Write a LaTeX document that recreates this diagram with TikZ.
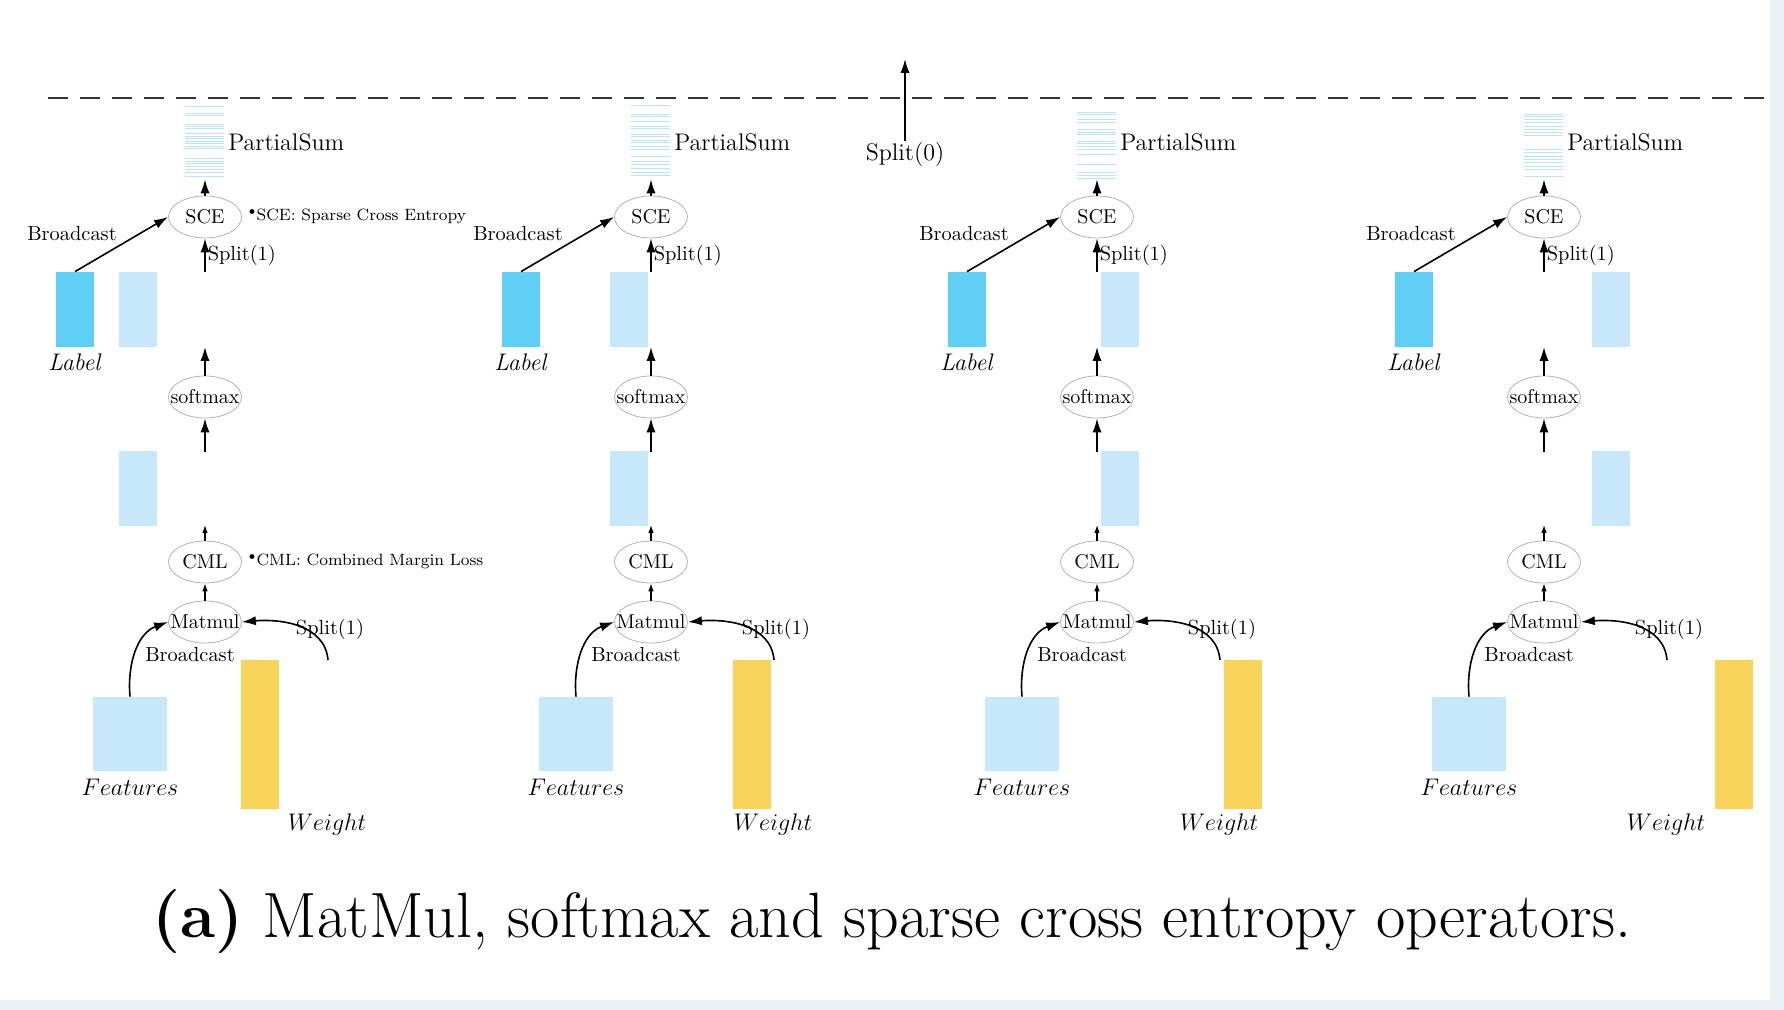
\documentclass[tikz,border=0pt]{standalone}
\usepackage{amsfonts}
\usepackage{bm}
\usepackage{xcolor}
\usepackage{tikz}
\usetikzlibrary{arrows.meta,shapes.geometric}
\definecolor{labelblue}{HTML}{5FCFF6}
\definecolor{paleblue}{HTML}{C6E8FA}
\definecolor{weightgold}{HTML}{F7D359}
\definecolor{stripeblue}{HTML}{BDE3F7}
\definecolor{edgeblue}{HTML}{EAF2F6}
\NewDocumentCommand{\opname}{m}{\makebox[0pt]{#1}}
\NewDocumentCommand{\opnote}{m}{$^{\scriptscriptstyle\bullet}$#1}

\begin{document}
\begin{tikzpicture}[x=0.5pt, y=-0.5pt, >={Latex[length=7pt,width=4.6pt]},
		op/.style={ellipse, draw=gray!60, line width=0.4pt, inner sep=0pt,
			minimum width=36.5pt, minimum height=21pt, font={\fontsize{10}{12}\selectfont}},
		tensor/.style={rectangle, inner sep=0pt, minimum width=19pt},
		sum/.style={rectangle, inner sep=0pt, minimum width=19.5pt, minimum height=36.5pt},
		stripe/.style={stripeblue, line width=0.7pt},
		lbl/.style={inner sep=1pt, font={\fontsize{10.2}{12}\selectfont}},
		big/.style={font={\fontsize{12}{14}\selectfont}},
		note/.style={inner sep=0pt, anchor=west, font={\fontsize{8.2}{10}\selectfont}},
		small/.style={line width=0.6pt, >={Latex[length=4pt,width=2.8pt]}},
		flow/.style={line width=0.8pt}]
		\useasboundingbox (0,0) rectangle (1784,1010);
		\fill[edgeblue] (0,1000) rectangle (1784,1010);
		\fill[edgeblue] (1770,0) rectangle (1784,1010);

		\draw[line width=1.3pt, black!80, dash pattern=on 10pt off 6pt] (48,98) -- (1764,98);
		\path (905,155) node[lbl, big] (sp0) {Split(0)};
		\path (905,59) coordinate (sp0top);
		\draw[->, flow] (sp0.north) -- (sp0top);

		% column 1
		\path (205,217) node[op] (sce1) {\opname{SCE}};
		\path (sce1) ++(0,-74.5) node[sum] (ps1) {};
		\foreach \s in {1,8,10,19,21,23,28,31,33,36,38,41,43,53,56,58,61,64,67,71}
			\draw[stripe] (ps1.north west) ++(0,\s) -- ++(39,0);
		\path (ps1.east) ++(1,0) node[lbl, big, anchor=west] {PartialSum};
		\draw[->, flow] (sce1.north) -- (ps1.south);
		\path (sce1.east) ++(6,-1) node[note] {\opnote{SCE: Sparse Cross Entropy}};
		\path (sce1) ++(-133,17) node[lbl] {Broadcast};
		\path (sce1) ++(-130,92.5) node[tensor, fill=labelblue, minimum height=37.5pt] (lab1) {};
		\path (lab1.south) ++(0,15) node[lbl, big] {\textit{Label}};
		\path (sce1) ++(-67,92.5) node[tensor, fill=paleblue, minimum height=37.5pt] (out1) {};
		\draw[->, flow] (lab1.north) -- (sce1.west);
		\path (sce1) ++(0,55) coordinate (sp1);
		\draw[->, flow] (sp1) -- node[lbl, right] {Split(1)} (sce1.south);
		\path (sce1) ++(0,180) node[op] (sm1) {\opname{softmax}};
		\path (sce1) ++(0,130) coordinate (smtop1);
		\draw[->, flow] (sm1.north) -- (smtop1);
		\path (sce1) ++(0,235) coordinate (smbot1);
		\draw[->, flow] (smbot1) -- (sm1.south);
		\path (sce1) ++(-67,271.5) node[tensor, fill=paleblue, minimum height=37.5pt] (log1) {};
		\path (sce1) ++(0,345) node[op] (cml1) {\opname{CML}};
		\path (cml1.east) ++(6,-1) node[note] {\opnote{CML: Combined Margin Loss}};
		\path (sce1) ++(0,308) coordinate (cmltop1);
		\draw[->, small] (cml1.north) -- (cmltop1);
		\path (sce1) ++(0,405) node[op] (mm1) {\opname{Matmul}};
		\draw[->, small] (mm1.north) -- (cml1.south);
		\path (sce1) ++(-75,517) node[tensor, fill=paleblue, minimum width=37pt, minimum height=37pt] (feat1) {};
		\path (feat1.south) ++(0,16) node[lbl, big] {$Features$};
		\draw[->, flow] (feat1.north) to[out=95, in=200] (mm1.west);
		\path (sce1) ++(-15,438) node[lbl] {Broadcast};
		\path (sce1) ++(55,517.5) node[tensor, fill=weightgold, minimum height=74.5pt] (w1) {};
		\path (sce1) ++(122,607) node[lbl, big] {$Weight$};
		\path (sce1) ++(123,443) coordinate (ws1);
		\draw[->, flow] (ws1) to[out=95, in=5] (mm1.east);
		\path (sce1) ++(125,412) node[lbl] {Split(1)};

		% column 2
		\path (651,217) node[op] (sce2) {\opname{SCE}};
		\path (sce2) ++(0,-74.5) node[sum] (ps2) {};
		\foreach \s in {0,9,11,16,21,23,29,31,35,37,41,44,51,56,59,63,67,70}
			\draw[stripe] (ps2.north west) ++(0,\s) -- ++(39,0);
		\path (ps2.east) ++(1,0) node[lbl, big, anchor=west] {PartialSum};
		\draw[->, flow] (sce2.north) -- (ps2.south);
		\path (sce2) ++(-133,17) node[lbl] {Broadcast};
		\path (sce2) ++(-130,92.5) node[tensor, fill=labelblue, minimum height=37.5pt] (lab2) {};
		\path (lab2.south) ++(0,15) node[lbl, big] {\textit{Label}};
		\path (sce2) ++(-22,92.5) node[tensor, fill=paleblue, minimum height=37.5pt] (out2) {};
		\draw[->, flow] (lab2.north) -- (sce2.west);
		\path (sce2) ++(0,55) coordinate (sp2);
		\draw[->, flow] (sp2) -- node[lbl, right] {Split(1)} (sce2.south);
		\path (sce2) ++(0,180) node[op] (sm2) {\opname{softmax}};
		\path (sce2) ++(0,130) coordinate (smtop2);
		\draw[->, flow] (sm2.north) -- (smtop2);
		\path (sce2) ++(0,235) coordinate (smbot2);
		\draw[->, flow] (smbot2) -- (sm2.south);
		\path (sce2) ++(-22,271.5) node[tensor, fill=paleblue, minimum height=37.5pt] (log2) {};
		\path (sce2) ++(0,345) node[op] (cml2) {\opname{CML}};
		\path (sce2) ++(0,308) coordinate (cmltop2);
		\draw[->, small] (cml2.north) -- (cmltop2);
		\path (sce2) ++(0,405) node[op] (mm2) {\opname{Matmul}};
		\draw[->, small] (mm2.north) -- (cml2.south);
		\path (sce2) ++(-75,517) node[tensor, fill=paleblue, minimum width=37pt, minimum height=37pt] (feat2) {};
		\path (feat2.south) ++(0,16) node[lbl, big] {$Features$};
		\draw[->, flow] (feat2.north) to[out=95, in=200] (mm2.west);
		\path (sce2) ++(-15,438) node[lbl] {Broadcast};
		\path (sce2) ++(101,517.5) node[tensor, fill=weightgold, minimum height=74.5pt] (w2) {};
		\path (sce2) ++(122,607) node[lbl, big] {$Weight$};
		\path (sce2) ++(123,443) coordinate (ws2);
		\draw[->, flow] (ws2) to[out=95, in=5] (mm2.east);
		\path (sce2) ++(125,412) node[lbl] {Split(1)};

		% column 3
		\path (1097,217) node[op] (sce3) {\opname{SCE}};
		\path (sce3) ++(0,-74.5) node[sum] (ps3) {};
		\foreach \s in {7,9,14,17,24,27,29,36,38,41,44,49,59,67,70,73}
			\draw[stripe] (ps3.north west) ++(0,\s) -- ++(39,0);
		\path (ps3.east) ++(1,0) node[lbl, big, anchor=west] {PartialSum};
		\draw[->, flow] (sce3.north) -- (ps3.south);
		\path (sce3) ++(-133,17) node[lbl] {Broadcast};
		\path (sce3) ++(-130,92.5) node[tensor, fill=labelblue, minimum height=37.5pt] (lab3) {};
		\path (lab3.south) ++(0,15) node[lbl, big] {\textit{Label}};
		\path (sce3) ++(23,92.5) node[tensor, fill=paleblue, minimum height=37.5pt] (out3) {};
		\draw[->, flow] (lab3.north) -- (sce3.west);
		\path (sce3) ++(0,55) coordinate (sp3);
		\draw[->, flow] (sp3) -- node[lbl, right] {Split(1)} (sce3.south);
		\path (sce3) ++(0,180) node[op] (sm3) {\opname{softmax}};
		\path (sce3) ++(0,130) coordinate (smtop3);
		\draw[->, flow] (sm3.north) -- (smtop3);
		\path (sce3) ++(0,235) coordinate (smbot3);
		\draw[->, flow] (smbot3) -- (sm3.south);
		\path (sce3) ++(23,271.5) node[tensor, fill=paleblue, minimum height=37.5pt] (log3) {};
		\path (sce3) ++(0,345) node[op] (cml3) {\opname{CML}};
		\path (sce3) ++(0,308) coordinate (cmltop3);
		\draw[->, small] (cml3.north) -- (cmltop3);
		\path (sce3) ++(0,405) node[op] (mm3) {\opname{Matmul}};
		\draw[->, small] (mm3.north) -- (cml3.south);
		\path (sce3) ++(-75,517) node[tensor, fill=paleblue, minimum width=37pt, minimum height=37pt] (feat3) {};
		\path (feat3.south) ++(0,16) node[lbl, big] {$Features$};
		\draw[->, flow] (feat3.north) to[out=95, in=200] (mm3.west);
		\path (sce3) ++(-15,438) node[lbl] {Broadcast};
		\path (sce3) ++(146,517.5) node[tensor, fill=weightgold, minimum height=74.5pt] (w3) {};
		\path (sce3) ++(122,607) node[lbl, big] {$Weight$};
		\path (sce3) ++(123,443) coordinate (ws3);
		\draw[->, flow] (ws3) to[out=95, in=5] (mm3.east);
		\path (sce3) ++(125,412) node[lbl] {Split(1)};

		% column 4
		\path (1544,217) node[op] (sce4) {\opname{SCE}};
		\path (sce4) ++(0,-74.5) node[sum] (ps4) {};
		\foreach \s in {9,11,14,17,21,24,27,30,44,47,51,54,57,61,64,71}
			\draw[stripe] (ps4.north west) ++(0,\s) -- ++(39,0);
		\path (ps4.east) ++(1,0) node[lbl, big, anchor=west] {PartialSum};
		\draw[->, flow] (sce4.north) -- (ps4.south);
		\path (sce4) ++(-133,17) node[lbl] {Broadcast};
		\path (sce4) ++(-130,92.5) node[tensor, fill=labelblue, minimum height=37.5pt] (lab4) {};
		\path (lab4.south) ++(0,15) node[lbl, big] {\textit{Label}};
		\path (sce4) ++(67,92.5) node[tensor, fill=paleblue, minimum height=37.5pt] (out4) {};
		\draw[->, flow] (lab4.north) -- (sce4.west);
		\path (sce4) ++(0,55) coordinate (sp4);
		\draw[->, flow] (sp4) -- node[lbl, right] {Split(1)} (sce4.south);
		\path (sce4) ++(0,180) node[op] (sm4) {\opname{softmax}};
		\path (sce4) ++(0,130) coordinate (smtop4);
		\draw[->, flow] (sm4.north) -- (smtop4);
		\path (sce4) ++(0,235) coordinate (smbot4);
		\draw[->, flow] (smbot4) -- (sm4.south);
		\path (sce4) ++(67,271.5) node[tensor, fill=paleblue, minimum height=37.5pt] (log4) {};
		\path (sce4) ++(0,345) node[op] (cml4) {\opname{CML}};
		\path (sce4) ++(0,308) coordinate (cmltop4);
		\draw[->, small] (cml4.north) -- (cmltop4);
		\path (sce4) ++(0,405) node[op] (mm4) {\opname{Matmul}};
		\draw[->, small] (mm4.north) -- (cml4.south);
		\path (sce4) ++(-75,517) node[tensor, fill=paleblue, minimum width=37pt, minimum height=37pt] (feat4) {};
		\path (feat4.south) ++(0,16) node[lbl, big] {$Features$};
		\draw[->, flow] (feat4.north) to[out=95, in=200] (mm4.west);
		\path (sce4) ++(-15,438) node[lbl] {Broadcast};
		\path (sce4) ++(190,517.5) node[tensor, fill=weightgold, minimum height=74.5pt] (w4) {};
		\path (sce4) ++(122,607) node[lbl, big] {$Weight$};
		\path (sce4) ++(123,443) coordinate (ws4);
		\draw[->, flow] (ws4) to[out=95, in=5] (mm4.east);
		\path (sce4) ++(125,412) node[lbl] {Split(1)};

		\path (892,922) node[font={\fontsize{32}{38}\selectfont}] (caption) {\textbf{(a)} MatMul, softmax and sparse cross entropy operators.};
	\end{tikzpicture}
\end{document}
